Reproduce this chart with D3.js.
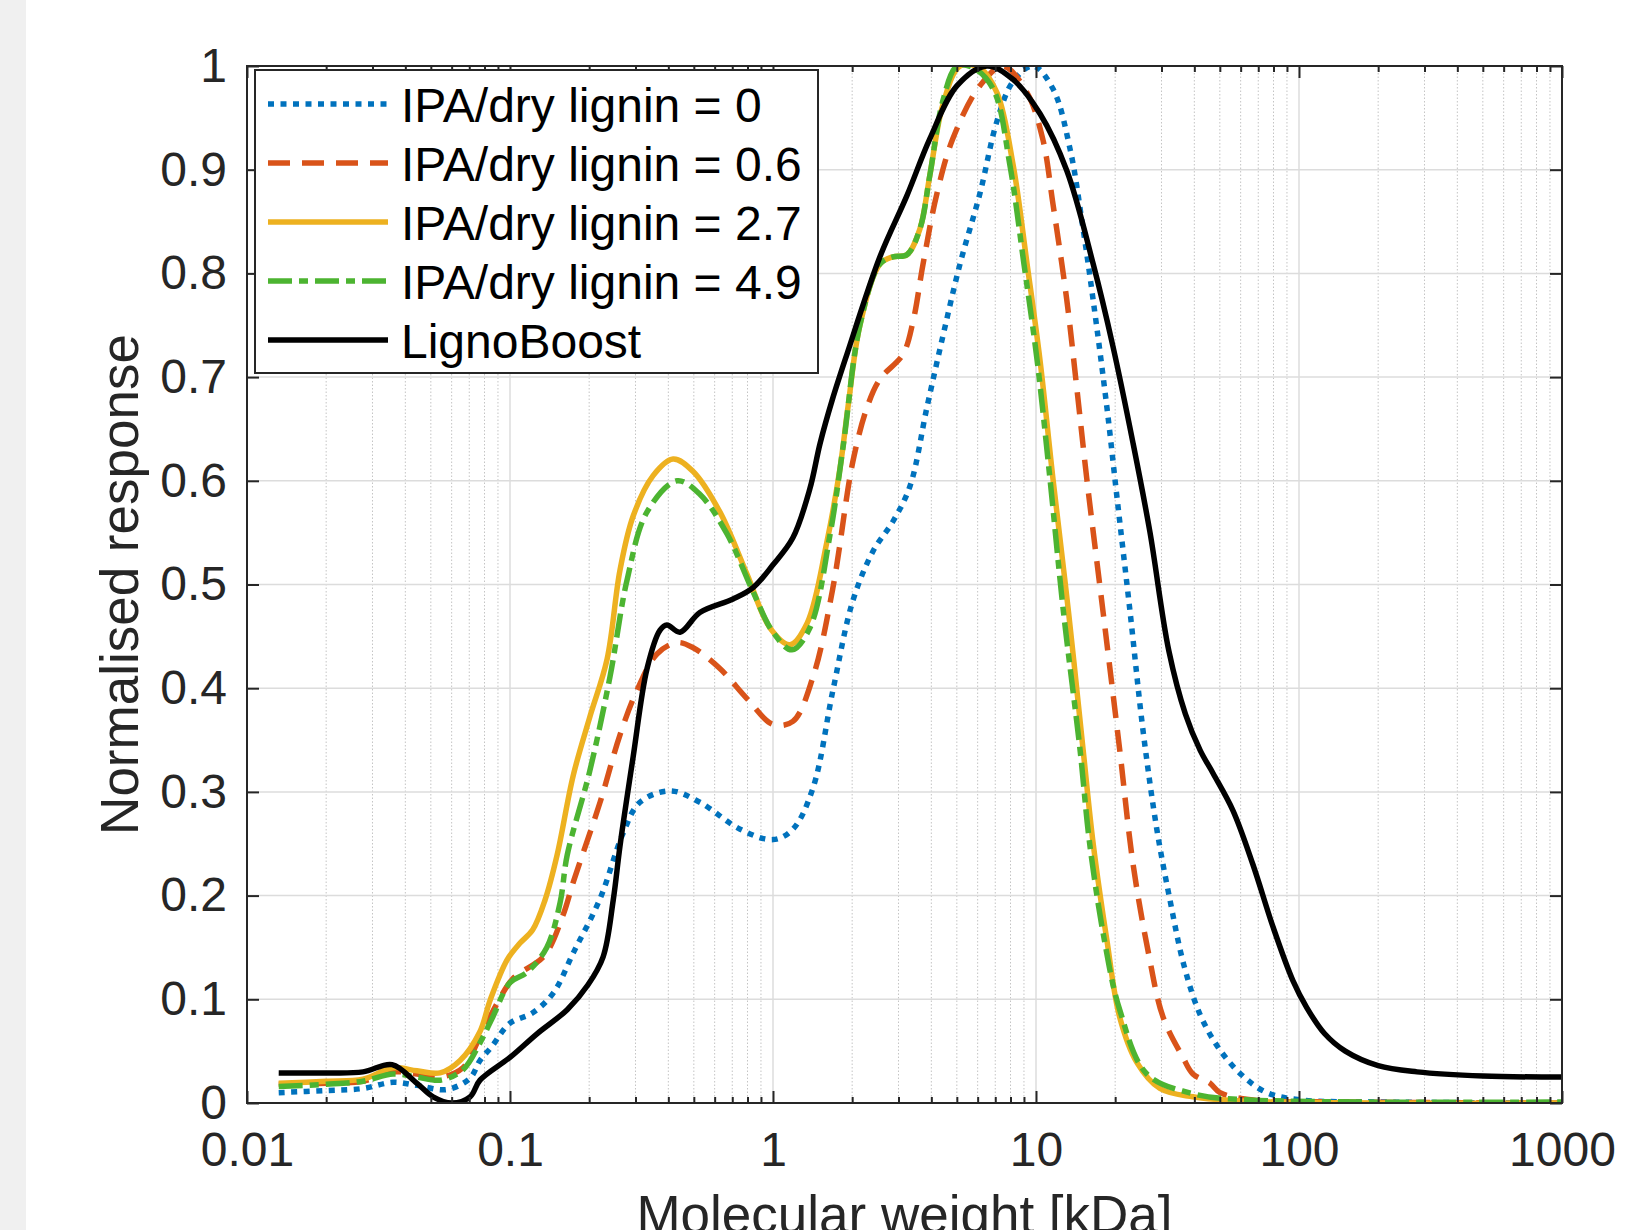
<!DOCTYPE html>
<html><head><meta charset="utf-8">
<script src="https://cdn.jsdelivr.net/npm/d3@7"></script>
<style>body{margin:0;background:#fff;} svg{display:block;}</style>
</head><body>
<svg id="chart" width="1636" height="1230"></svg>
<script>
// ---- data (molecular weight in kDa, normalised response) ----
const seriesNames = ["IPA/dry lignin = 0", "IPA/dry lignin = 0.6", "IPA/dry lignin = 2.7", "IPA/dry lignin = 4.9", "LignoBoost"];
const ipa0 = [[0.0132,0.010],[0.0200,0.012],[0.0276,0.014],[0.0359,0.020],[0.0443,0.017],[0.0575,0.013],[0.0705,0.024],[0.0769,0.041],[0.085,0.054],[0.100,0.077],[0.122,0.087],[0.146,0.106],[0.175,0.146],[0.220,0.197],[0.269,0.260],[0.312,0.290],[0.406,0.301],[0.527,0.290],[0.750,0.264],[1.0,0.254],[1.19,0.264],[1.42,0.304],[1.69,0.398],[2.01,0.484],[2.40,0.532],[2.86,0.561],[3.32,0.595],[3.85,0.671],[4.43,0.740],[5.14,0.809],[6.12,0.877],[7.11,0.947],[8.18,0.985],[9.75,1.0],[11.6,0.978],[13.5,0.919],[15.1,0.843],[16.5,0.774],[18.6,0.671],[20.3,0.585],[22.8,0.473],[25.5,0.360],[28.8,0.264],[32.3,0.196],[36.5,0.133],[42.1,0.085],[50.1,0.051],[61.2,0.026],[75.5,0.010],[101,0.003],[200,0.001],[1000,0.0]];
const ipa06 = [[0.0132,0.018],[0.0200,0.019],[0.0276,0.021],[0.0359,0.030],[0.0443,0.028],[0.0542,0.025],[0.0662,0.034],[0.0769,0.064],[0.0893,0.096],[0.1026,0.120],[0.135,0.142],[0.159,0.181],[0.174,0.213],[0.220,0.290],[0.262,0.355],[0.304,0.398],[0.362,0.433],[0.432,0.444],[0.497,0.439],[0.628,0.419],[0.796,0.390],[1.0,0.365],[1.19,0.368],[1.42,0.411],[1.69,0.497],[2.01,0.618],[2.28,0.671],[2.55,0.698],[3.12,0.722],[3.41,0.754],[3.72,0.809],[4.20,0.877],[4.83,0.930],[6.12,0.981],[7.5,1.0],[9.25,0.974],[10.6,0.930],[11.6,0.867],[13.1,0.774],[14.3,0.689],[15.6,0.602],[18.0,0.473],[20.8,0.341],[23.4,0.230],[26.8,0.144],[30.4,0.083],[36.2,0.044],[39.5,0.028],[45.9,0.019],[50.1,0.010],[66.8,0.003],[150,0.001],[1000,0.0]];
const ipa27 = [[0.0132,0.019],[0.0200,0.021],[0.0276,0.023],[0.0359,0.034],[0.0443,0.031],[0.0542,0.029],[0.0646,0.041],[0.0769,0.069],[0.084,0.099],[0.0975,0.138],[0.109,0.154],[0.122,0.167],[0.136,0.196],[0.151,0.239],[0.174,0.316],[0.201,0.372],[0.234,0.428],[0.262,0.514],[0.294,0.566],[0.350,0.605],[0.417,0.621],[0.497,0.609],[0.628,0.570],[0.796,0.510],[0.975,0.458],[1.16,0.442],[1.35,0.463],[1.60,0.540],[1.80,0.613],[1.93,0.672],[2.14,0.750],[2.55,0.809],[2.86,0.816],[3.23,0.818],[3.62,0.843],[3.95,0.895],[4.43,0.963],[5.14,1.0],[6.12,0.998],[7.11,0.974],[8.18,0.905],[9.25,0.809],[10.36,0.716],[11.6,0.602],[13.3,0.473],[15.1,0.341],[16.5,0.250],[18.6,0.157],[20.8,0.083],[24.2,0.039],[29.6,0.014],[39.5,0.006],[60,0.002],[1000,0.0]];
const ipa49 = [[0.0132,0.016],[0.0200,0.018],[0.0276,0.021],[0.0359,0.028],[0.0443,0.025],[0.0542,0.022],[0.0662,0.032],[0.0769,0.058],[0.086,0.083],[0.100,0.116],[0.116,0.126],[0.138,0.150],[0.155,0.193],[0.165,0.239],[0.201,0.320],[0.240,0.411],[0.279,0.505],[0.332,0.570],[0.432,0.600],[0.527,0.587],[0.668,0.549],[0.840,0.493],[1.0,0.454],[1.18,0.437],[1.38,0.458],[1.65,0.549],[1.85,0.634],[2.14,0.750],[2.55,0.809],[2.86,0.816],[3.23,0.818],[3.62,0.843],[3.95,0.895],[4.43,0.967],[5.01,1.0],[5.8,0.998],[6.9,0.977],[7.95,0.905],[9.0,0.809],[10.1,0.716],[11.3,0.602],[12.7,0.475],[14.7,0.341],[16.0,0.250],[18.2,0.157],[20.8,0.090],[26.4,0.028],[39.5,0.009],[65,0.003],[1000,0.001]];
const ligno = [[0.0132,0.029],[0.0200,0.029],[0.0276,0.030],[0.0356,0.037],[0.0443,0.019],[0.0510,0.006],[0.0601,0.0],[0.0705,0.006],[0.0769,0.022],[0.1,0.044],[0.127,0.067],[0.165,0.090],[0.198,0.114],[0.226,0.141],[0.247,0.196],[0.262,0.248],[0.294,0.334],[0.332,0.419],[0.372,0.456],[0.395,0.461],[0.443,0.454],[0.527,0.473],[0.705,0.486],[0.840,0.497],[1.0,0.519],[1.19,0.545],[1.38,0.592],[1.51,0.636],[1.68,0.678],[1.91,0.722],[2.55,0.816],[3.23,0.875],[3.95,0.930],[5.01,0.981],[6.51,1.0],[8.18,0.987],[10.36,0.954],[13.1,0.899],[16.5,0.809],[19.6,0.730],[23.4,0.636],[27.1,0.551],[32.0,0.436],[37.0,0.375],[42.1,0.340],[47.1,0.318],[56.1,0.282],[66.8,0.230],[79.6,0.170],[94.8,0.118],[107,0.092],[125,0.067],[150,0.050],[200,0.036],[281,0.030],[501,0.026],[1000,0.025]];
const xTicks = [0.01, 0.1, 1, 10, 100, 1000];
const xTickLabels = ["0.01", "0.1", "1", "10", "100", "1000"];
const yTicks = [0, 0.1, 0.2, 0.3, 0.4, 0.5, 0.6, 0.7, 0.8, 0.9, 1];
const yTickLabels = ["0", "0.1", "0.2", "0.3", "0.4", "0.5", "0.6", "0.7", "0.8", "0.9", "1"];
const xLabel = "Molecular weight [kDa]";
const yLabel = "Normalised response";

// ---- styles ----
const seriesData = [ipa0, ipa06, ipa27, ipa49, ligno];
const colors = ["#0072BD", "#D95319", "#EDB120", "#4CB431", "#000000"];
const dashes = ["6,6.5", "22,12", null, "24,7,9,7", null];
const FONT = "'Liberation Sans', Arial, Helvetica, sans-serif";
const AX = "#262626";

const W = 1636, H = 1230;
const L = 247, R = 1562, T = 66, B = 1103;
const svg = d3.select("#chart");
svg.append("rect").attr("width", W).attr("height", H).attr("fill", "#fff");
svg.append("rect").attr("width", 26).attr("height", H).attr("fill", "#f0f0f0");

const x = d3.scaleLog().domain([0.01, 1000]).range([L, R]);
const y = d3.scaleLinear().domain([0, 1]).range([B, T]);

const minorX = [];
[0.01, 0.1, 1, 10, 100].forEach(d => { for (let k = 2; k <= 9; k++) minorX.push(d * k); });

// grid
const grid = svg.append("g");
grid.selectAll(".mx").data(minorX).enter().append("line")
  .attr("x1", d => x(d)).attr("x2", d => x(d)).attr("y1", T).attr("y2", B)
  .attr("stroke", "#c4c4c4").attr("stroke-width", 1).attr("stroke-dasharray", "1.5,2");
grid.selectAll(".gx").data(xTicks).enter().append("line")
  .attr("x1", d => x(d)).attr("x2", d => x(d)).attr("y1", T).attr("y2", B)
  .attr("stroke", "#dcdcdc").attr("stroke-width", 1.5);
grid.selectAll(".gy").data(yTicks).enter().append("line")
  .attr("x1", L).attr("x2", R).attr("y1", d => y(d)).attr("y2", d => y(d))
  .attr("stroke", "#dcdcdc").attr("stroke-width", 1.5);

// curves
svg.append("clipPath").attr("id", "clip").append("rect")
  .attr("x", L).attr("y", T).attr("width", R - L).attr("height", B - T);
const line = d3.line().x(d => x(d[0])).y(d => y(d[1])).curve(d3.curveCatmullRom.alpha(0.5));
const curves = svg.append("g").attr("clip-path", "url(#clip)");
seriesData.forEach((s, i) => {
  curves.append("path").attr("d", line(s)).attr("fill", "none")
    .attr("stroke", colors[i]).attr("stroke-width", 5.5)
    .attr("stroke-dasharray", dashes[i]).attr("stroke-linejoin", "round");
});

// axes
function styleAxis(g) {
  g.select(".domain").remove();
  g.selectAll(".tick line").attr("stroke", AX).attr("stroke-width", 2);
  g.selectAll("text").attr("font-family", FONT).attr("font-size", 48).attr("fill", AX);
}
const xb = svg.append("g").attr("transform", `translate(0,${B})`)
  .call(d3.axisBottom(x).tickValues(xTicks).tickSize(-12).tickSizeOuter(0).tickPadding(29)
    .tickFormat((d, i) => xTickLabels[i]));
styleAxis(xb);
const xbm = svg.append("g").attr("transform", `translate(0,${B})`)
  .call(d3.axisBottom(x).tickValues(minorX).tickSize(-6).tickSizeOuter(0).tickFormat(""));
styleAxis(xbm);
const xt = svg.append("g").attr("transform", `translate(0,${T})`)
  .call(d3.axisTop(x).tickValues(xTicks).tickSize(-12).tickSizeOuter(0).tickFormat(""));
styleAxis(xt);
const xtm = svg.append("g").attr("transform", `translate(0,${T})`)
  .call(d3.axisTop(x).tickValues(minorX).tickSize(-6).tickSizeOuter(0).tickFormat(""));
styleAxis(xtm);
const yl = svg.append("g").attr("transform", `translate(${L},0)`)
  .call(d3.axisLeft(y).tickValues(yTicks).tickSize(-12).tickSizeOuter(0).tickPadding(20)
    .tickFormat((d, i) => yTickLabels[i]));
styleAxis(yl);
const yr = svg.append("g").attr("transform", `translate(${R},0)`)
  .call(d3.axisRight(y).tickValues(yTicks).tickSize(-12).tickSizeOuter(0).tickFormat(""));
styleAxis(yr);

svg.append("rect").attr("x", L).attr("y", T).attr("width", R - L).attr("height", B - T)
  .attr("fill", "none").attr("stroke", AX).attr("stroke-width", 2);

// axis labels
svg.append("text").attr("x", (L + R) / 2).attr("y", 1233).attr("text-anchor", "middle")
  .attr("font-family", FONT).attr("font-size", 53).attr("fill", AX).text(xLabel);
svg.append("text").attr("transform", `translate(138,${(T + B) / 2}) rotate(-90)`)
  .attr("text-anchor", "middle").attr("font-family", FONT).attr("font-size", 53)
  .attr("fill", AX).text(yLabel);

// legend
const lg = svg.append("g");
lg.append("rect").attr("x", 255).attr("y", 70).attr("width", 563).attr("height", 303)
  .attr("fill", "#fff").attr("stroke", AX).attr("stroke-width", 2);
seriesNames.forEach((name, i) => {
  const cy = 104 + i * 59;
  lg.append("line").attr("x1", 268).attr("x2", 388).attr("y1", cy).attr("y2", cy)
    .attr("stroke", colors[i]).attr("stroke-width", 5.5).attr("stroke-dasharray", dashes[i]);
  lg.append("text").attr("x", 401).attr("y", cy + 18).attr("font-family", FONT)
    .attr("font-size", 48).attr("fill", "#000").text(name);
});
</script>
</body></html>
